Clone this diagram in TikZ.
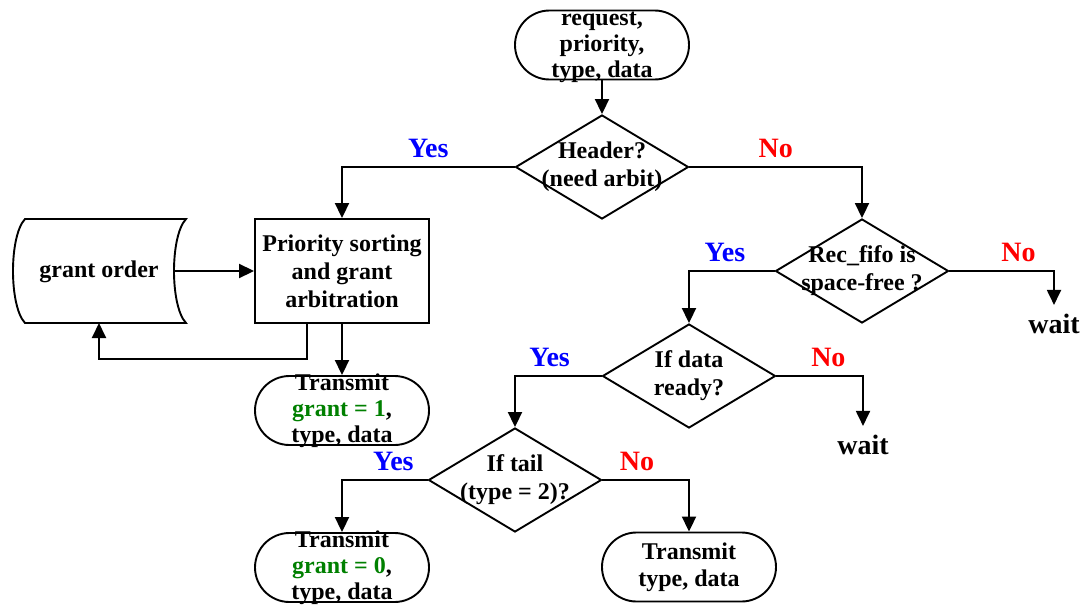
\documentclass[tikz,border=0pt]{standalone}
\usepackage{fontspec}
\setmainfont{Liberation Serif}
\usetikzlibrary{arrows.meta,shapes.geometric}
\definecolor{yesblue}{RGB}{0,0,255}
\definecolor{nored}{RGB}{255,0,0}
\definecolor{grantgreen}{RGB}{0,128,0}

\begin{document}
\begin{tikzpicture}[x=1pt,y=-1pt,
  line/.style={draw=black, line width=1.9pt},
  arr/.style={line, -{Triangle[length=15pt,width=14pt]}},
  txt/.style={font=\fontsize{24}{28}\selectfont\bfseries, align=center, inner sep=0pt},
  termtxt/.style={txt, font=\fontsize{24}{26}\selectfont\bfseries},
  term/.style={line, rectangle, rounded corners=34.5pt, minimum width=174pt, minimum height=69pt, inner sep=0pt},
  procbox/.style={line, rectangle, minimum width=174pt, minimum height=104pt, inner sep=0pt, txt},
  decision/.style={line, diamond, minimum width=173pt, minimum height=104pt, inner sep=0pt},
  lbl/.style={font=\fontsize{28}{32}\selectfont\bfseries, inner sep=0pt, above=8pt},
  yes/.style={lbl, text=yesblue},
  no/.style={lbl, text=nored},
  waitnode/.style={font=\fontsize{28}{32}\selectfont\bfseries, inner xsep=0pt, inner ysep=9pt},
]
\useasboundingbox (0,0) rectangle (1084,605);

% start terminal
\node[term] (start) at (602,45) {};
\node[termtxt, yshift=-2.5pt] (start-t) at (start.center) {request,\\priority,\\type, data};

% decisions
\node[decision] (hdr) at (602,167) {};
\node[txt] (hdr-t) at (hdr.center) {Header?\\(need arbit)};
\node[decision] (fifo) at (862,271) {};
\node[txt] (fifo-t) at (fifo.center) {Rec\_fifo is\\space-free ?};
\node[decision] (data) at (689,376) {};
\node[txt] (data-t) at (data.center) {If data\\ready?};
\node[decision] (tail) at (515,480) {};
\node[txt] (tail-t) at (tail.center) {If tail\\(type = 2)?};

% arbitration process
\node[procbox] (box) at (342,271) {Priority sorting\\and grant\\arbitration};

% stored data: grant order
\draw[line] (25,219) -- (186,219) .. controls (170,236) and (170,306) .. (186,323)
  -- (25,323) .. controls (9,306) and (9,236) .. (25,219) -- cycle;
\node[txt] (go) at (99,272) {grant order};
\coordinate (go-e) at (173,271);
\coordinate (go-s) at (99,323);

% output terminals
\node[term] (t1) at (342,410.5) {};
\node[termtxt] (t1-t) at (t1.center) {Transmit\\\textcolor{grantgreen}{grant = 1},\\type, data};
\node[term] (t0) at (342,567.5) {};
\node[termtxt] (t0-t) at (t0.center) {Transmit\\\textcolor{grantgreen}{grant = 0},\\type, data};
\node[term] (tx) at (689,567) {};
\node[txt, font=\fontsize{24}{27}\selectfont\bfseries] (tx-t) at (tx.center) {Transmit\\type, data};

% wait states
\node[waitnode] (wait1) at (1054,324) {wait};
\node[waitnode] (wait2) at (863,445) {wait};

% connectors
\draw[arr] (start.south) -- (hdr.north);
\draw[arr] (hdr.west) -| node[yes,pos=0.25]{Yes} (box.north);
\draw[arr] (hdr.east) -| node[no,pos=0.25]{No} (fifo.north);
\draw[arr] (go-e) -- (box.west);
\draw[arr] ([xshift=-35pt]box.south) -- ++(0,35) -| (go-s);
\draw[arr] (box.south) -- (t1.north);
\draw[arr] (fifo.west) -| node[yes,pos=0.29]{Yes} (data.north);
\draw[arr] (fifo.east) -| node[no,pos=0.33]{No} (wait1);
\draw[arr] (data.west) -| node[yes,pos=0.3]{Yes} (tail.north);
\draw[arr] (data.east) -| node[no,pos=0.3]{No} (wait2);
\draw[arr] (tail.west) -| node[yes,pos=0.2]{Yes} (t0.north);
\draw[arr] (tail.east) -| node[no,pos=0.2]{No} (tx.north);
\end{tikzpicture}
\end{document}
